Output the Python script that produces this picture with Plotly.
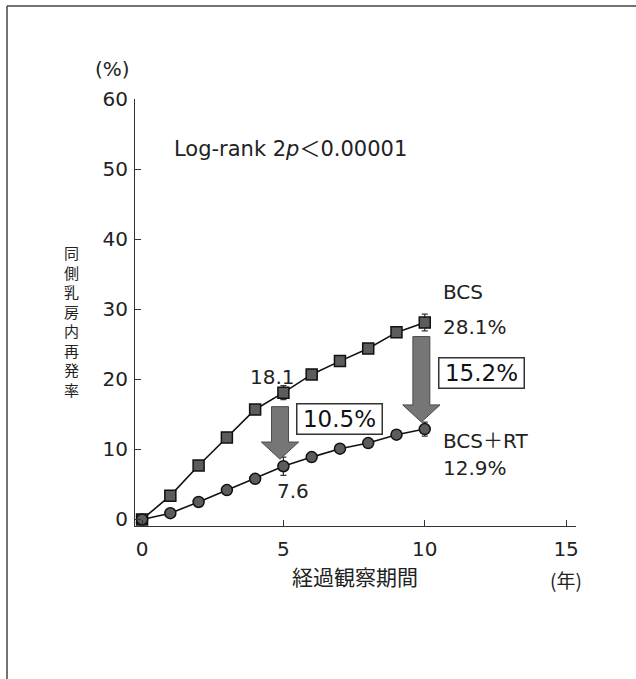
import plotly.graph_objects as go

# Cumulative ipsilateral breast recurrence (%) by years of follow-up
years = [0, 1, 2, 3, 4, 5, 6, 7, 8, 9, 10]
bcs = [0, 3.4, 7.7, 11.7, 15.7, 18.1, 20.7, 22.6, 24.4, 26.7, 28.1]
bcs_rt = [0, 0.9, 2.5, 4.2, 5.8, 7.6, 8.9, 10.1, 10.9, 12.1, 12.9]
# standard errors shown only at 5 and 10 years
bcs_err = [None, None, None, None, None, 1.0, None, None, None, None, 1.2]
bcs_rt_err = [None, None, None, None, None, 1.3, None, None, None, None, 1.0]
reduction_5y = 10.5
reduction_10y = 15.2

x_ticks = [0, 5, 10, 15]
y_ticks = [0, 10, 20, 30, 40, 50, 60]

W, H = 636, 679
ML, MR, MT, MB = 135, 60, 99, 153
PW, PH = W - ML - MR, H - MT - MB

LATIN = "DejaVu Sans, Noto Sans CJK JP, sans-serif"
CJK = "Noto Sans CJK JP, sans-serif"
INK = "#222222"


def px_x(px):
    return (px - ML) / PW


def px_y(py):
    return (H - MB - py) / PH


def block_arrow(xc, y_top, y_tip, shaft_half=0.3, head_half=0.66, head_len=2.45):
    y_neck = y_tip + head_len
    pts = [
        (xc - shaft_half, y_top), (xc + shaft_half, y_top),
        (xc + shaft_half, y_neck), (xc + head_half, y_neck),
        (xc, y_tip), (xc - head_half, y_neck),
        (xc - shaft_half, y_neck),
    ]
    return "M " + " L ".join(f"{x},{y}" for x, y in pts) + " Z"


fig = go.Figure()

marker_line = dict(color="#111111", width=1.5)
fig.add_trace(go.Scatter(
    x=years, y=bcs, mode="lines+markers", name="BCS",
    line=dict(color="#111111", width=1.6),
    marker=dict(symbol="square", size=11, color="#5c5c5c", line=marker_line),
    error_y=dict(type="data", array=bcs_err, color="#333333", thickness=1.2, width=3),
))
fig.add_trace(go.Scatter(
    x=years, y=bcs_rt, mode="lines+markers", name="BCS+RT",
    line=dict(color="#111111", width=1.6),
    marker=dict(symbol="circle", size=11, color="#5c5c5c", line=marker_line),
    error_y=dict(type="data", array=bcs_rt_err, color="#333333", thickness=1.2, width=3),
))

shapes = []
# grey block arrows from the BCS curve down to the BCS+RT curve
for i in (years.index(5), years.index(10)):
    shapes.append(dict(
        type="path", xref="x", yref="y",
        path=block_arrow(years[i] - 0.12, bcs[i] - 2.0, bcs_rt[i] + 1.0),
        fillcolor="#767676", line=dict(color="#4a4a4a", width=1), layer="above",
    ))
# outer frame (top and left edges)
shapes.append(dict(type="line", xref="paper", yref="paper",
                   x0=px_x(7), x1=px_x(W), y0=px_y(6), y1=px_y(6),
                   line=dict(color="#444444", width=1.5)))
shapes.append(dict(type="line", xref="paper", yref="paper",
                   x0=px_x(7), x1=px_x(7), y0=px_y(6), y1=px_y(H),
                   line=dict(color="#444444", width=1.5)))

i5, i10 = years.index(5), years.index(10)
txt = dict(family=LATIN, size=20, color=INK)
box_font = dict(family=LATIN, size=23, color="#111111")
annotations = [
    dict(x=1.06, y=52.8, xref="x", yref="y", xanchor="left", yanchor="middle",
         text="Log-rank 2<i>p</i>＜0.00001", showarrow=False,
         font=dict(family=LATIN, size=21, color=INK)),
    dict(x=4.6, y=20.4, xref="x", yref="y", xanchor="center", yanchor="middle",
         text=f"{bcs[i5]:.1f}", showarrow=False, font=txt),
    dict(x=5.34, y=4.0, xref="x", yref="y", xanchor="center", yanchor="middle",
         text=f"{bcs_rt[i5]:.1f}", showarrow=False, font=txt),
    dict(x=10.58, y=32.5, xref="x", yref="y", xanchor="left", yanchor="middle",
         text="BCS", showarrow=False, font=txt),
    dict(x=10.58, y=27.4, xref="x", yref="y", xanchor="left", yanchor="middle",
         text=f"{bcs[i10]:.1f}%", showarrow=False, font=txt),
    dict(x=10.58, y=11.2, xref="x", yref="y", xanchor="left", yanchor="middle",
         text="BCS＋RT", showarrow=False, font=txt),
    dict(x=10.58, y=7.3, xref="x", yref="y", xanchor="left", yanchor="middle",
         text=f"{bcs_rt[i10]:.1f}%", showarrow=False, font=txt),
    dict(x=6.97, y=14.36, xref="x", yref="y", xanchor="center", yanchor="middle",
         text=f"{reduction_5y:.1f}%", showarrow=False, font=box_font,
         bordercolor="#333333", borderwidth=1.5, borderpad=0,
         bgcolor="white", width=84, height=29),
    dict(x=11.99, y=20.9, xref="x", yref="y", xanchor="center", yanchor="middle",
         text=f"{reduction_10y:.1f}%", showarrow=False, font=box_font,
         bordercolor="#333333", borderwidth=1.5, borderpad=0,
         bgcolor="white", width=84, height=29),
    dict(x=px_x(112), y=px_y(69), xref="paper", yref="paper",
         xanchor="center", yanchor="middle", text="(%)", showarrow=False, font=txt),
    dict(x=px_x(355), y=px_y(576), xref="paper", yref="paper",
         xanchor="center", yanchor="middle", text="経過観察期間", showarrow=False,
         font=dict(family=CJK, size=21, color=INK)),
    dict(x=px_x(566), y=px_y(579), xref="paper", yref="paper",
         xanchor="center", yanchor="middle", text="(年)", showarrow=False,
         font=dict(family=CJK, size=19, color=INK)),
    # vertical y-axis title, one character per line
    dict(x=px_x(71), y=px_y(321), xref="paper", yref="paper",
         xanchor="center", yanchor="middle",
         text="<br>".join("同側乳房内再発率"), showarrow=False,
         font=dict(family=CJK, size=15, color=INK)),
]

axis_common = dict(
    showgrid=False, zeroline=False, showline=True, linecolor="#333333", linewidth=1.2,
    ticks="inside", ticklen=6, tickcolor="#333333", tickwidth=1.2,
    tickfont=dict(family=LATIN, size=20, color=INK),
)

fig.update_layout(
    width=W, height=H,
    margin=dict(l=ML, r=MR, t=MT, b=MB, pad=0),
    paper_bgcolor="white", plot_bgcolor="white",
    showlegend=False,
    xaxis=dict(range=[-0.25, 15.35], tickvals=x_ticks, ticklabelstandoff=5, **axis_common),
    yaxis=dict(range=[-0.93, 60], tickvals=y_ticks, ticklabelstandoff=2, **axis_common),
    shapes=shapes,
    annotations=annotations,
)

fig.write_html("out.html")
